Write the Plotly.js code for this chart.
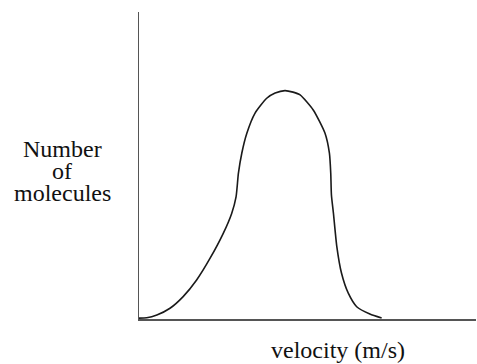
<!DOCTYPE html>
<html>
<head>
<meta charset="utf-8">
<script src="https://cdn.plot.ly/plotly-3.0.1.min.js"></script>
<style>
  html, body { margin: 0; padding: 0; background: #fff; }
  #chart { width: 477px; height: 364px; }
</style>
</head>
<body>
<div id="chart"></div>
<script>
// velocity distribution (arbitrary units)
const velocity = [0, 2.3, 5.3, 9.2, 13.1, 17.1, 21.1, 25.0, 27.5, 28.8, 29.5, 30.5, 32.0, 34.4, 37.9, 40.4,
  43.3, 45.7, 47.8, 51.7, 55.2, 56.5, 56.9, 57.1, 57.7, 58.7, 60.1, 62.1, 64.6, 68.5, 72.0];
const molecules = [0.3, 0.4, 1.3, 3.5, 7.3, 12.7, 19.8, 27.9, 34.4, 39.8, 47.5, 54.0, 60.5, 67.0, 71.9, 73.6,
  74.4, 73.9, 73.0, 68.1, 60.5, 54.0, 47.5, 40.4, 34.4, 23.6, 14.9, 8.4, 4.0, 1.6, 0.3];
const yLabelLines = ['Number', 'of', 'molecules'];
const xLabel = 'velocity (m/s)';

const serif = 'Liberation Serif, Times New Roman, serif';

var trace = {
  x: velocity,
  y: molecules,
  type: 'scatter',
  mode: 'lines',
  line: { color: '#1a1a1a', width: 1.6, shape: 'spline', smoothing: 0.6 },
  hoverinfo: 'skip'
};

// y label is horizontal, so it is drawn as three annotation lines
const lineY = [0.555, 0.482, 0.41];
var annotations = yLabelLines.map((t, i) => ({
  text: t,
  xref: 'paper', yref: 'paper',
  x: -0.228, y: lineY[i],
  xanchor: 'center', yanchor: 'middle',
  showarrow: false,
  font: { family: serif, size: 24, color: '#111' }
}));
annotations.push({
  text: xLabel,
  xref: 'paper', yref: 'paper',
  x: 0.59, y: -0.1,
  xanchor: 'center', yanchor: 'middle',
  showarrow: false,
  font: { family: serif, size: 24, color: '#111' }
});

var layout = {
  width: 477,
  height: 364,
  margin: { l: 139, r: 1, t: 12, b: 45 },
  paper_bgcolor: '#fff',
  plot_bgcolor: '#fff',
  showlegend: false,
  xaxis: {
    range: [0, 100],
    showline: true, linecolor: '#555', linewidth: 1.5,
    showgrid: false, zeroline: false, showticklabels: false, ticks: ''
  },
  yaxis: {
    range: [0, 100],
    showline: true, linecolor: '#555', linewidth: 1.5,
    showgrid: false, zeroline: false, showticklabels: false, ticks: ''
  },
  annotations: annotations
};

Plotly.newPlot('chart', [trace], layout, { staticPlot: true });
</script>
</body>
</html>
